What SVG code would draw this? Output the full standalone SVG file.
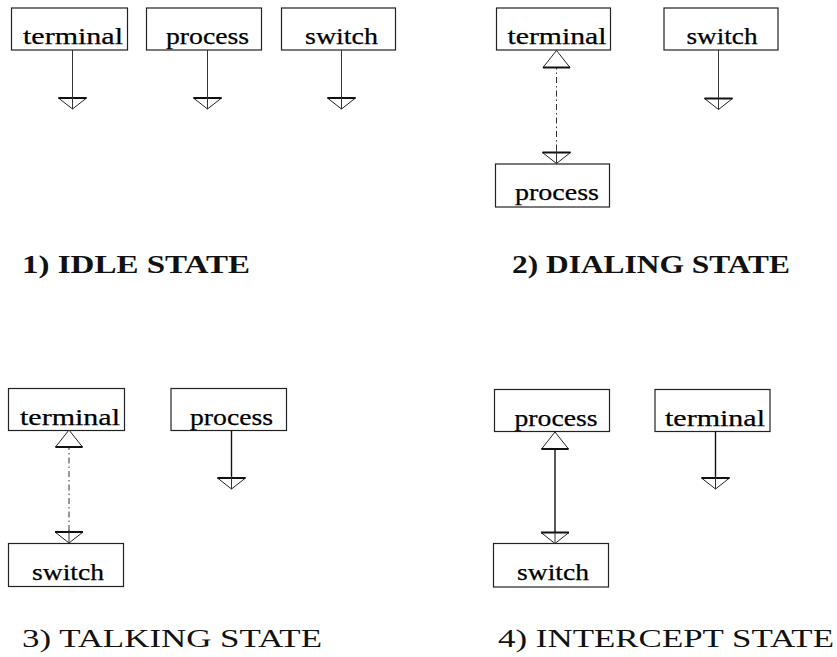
<svg xmlns="http://www.w3.org/2000/svg" width="837" height="657" viewBox="0 0 837 657">
<style>
.box{fill:#fff;stroke:#222;stroke-width:1.2}
.nt{font-family:"Liberation Serif","DejaVu Serif",serif;font-size:24px;fill:#000;stroke:#000;stroke-width:0.25;text-anchor:middle}
.ln{stroke:#333;stroke-width:1;fill:none}
.dd{stroke:#333;stroke-width:1;fill:none;stroke-dasharray:6 3 1.5 3}
.sl{stroke:#111;stroke-width:1.4;fill:none}
.tri{fill:#fff;stroke:#222;stroke-width:1}
.bar{stroke:#111;stroke-width:2;fill:none}
.lb{font-family:"Liberation Serif","DejaVu Serif",serif;font-size:26px;fill:#111}
.b{font-weight:bold}
</style>
<defs>
<g id="dn"><polygon class="tri" points="-14,0 14,0 0,11"/><line class="bar" x1="-14" y1="0" x2="14" y2="0"/><line class="ln" x1="0" y1="-2" x2="0" y2="11"/></g>
<g id="up"><polygon class="tri" points="-13.5,0 13.5,0 0,-17"/><line class="bar" x1="-13.5" y1="0" x2="13.5" y2="0"/></g>
</defs>

<!-- Panel 1 -->
<g id="p1-terminal"><rect class="box" x="11.5" y="8" width="116" height="42"/><text class="nt" x="73" y="44" textLength="100" lengthAdjust="spacingAndGlyphs">terminal</text></g>
<g id="p1-process"><rect class="box" x="146.5" y="8" width="115" height="42"/><text class="nt" x="207.5" y="44" textLength="83" lengthAdjust="spacingAndGlyphs">process</text></g>
<g id="p1-switch"><rect class="box" x="281.5" y="8" width="114" height="42"/><text class="nt" x="341.5" y="44" textLength="73" lengthAdjust="spacingAndGlyphs">switch</text></g>

<!-- Panel 2 -->
<g id="p2-terminal"><rect class="box" x="496.5" y="8" width="114" height="42"/><text class="nt" x="557" y="44" textLength="99" lengthAdjust="spacingAndGlyphs">terminal</text></g>
<g id="p2-switch"><rect class="box" x="664" y="8" width="114" height="42"/><text class="nt" x="722" y="44" textLength="71" lengthAdjust="spacingAndGlyphs">switch</text></g>
<g id="p2-process"><rect class="box" x="495.5" y="164" width="114" height="43"/><text class="nt" x="557" y="200" textLength="84" lengthAdjust="spacingAndGlyphs">process</text></g>

<!-- Panel 3 -->
<g id="p3-terminal"><rect class="box" x="8.5" y="388.5" width="116" height="42"/><text class="nt" x="70" y="424.5" textLength="100" lengthAdjust="spacingAndGlyphs">terminal</text></g>
<g id="p3-process"><rect class="box" x="171" y="388.5" width="115.5" height="42"/><text class="nt" x="231.5" y="424.5" textLength="83" lengthAdjust="spacingAndGlyphs">process</text></g>
<g id="p3-switch"><rect class="box" x="8.5" y="543.5" width="115" height="43"/><text class="nt" x="68" y="580" textLength="72" lengthAdjust="spacingAndGlyphs">switch</text></g>

<!-- Panel 4 -->
<g id="p4-process"><rect class="box" x="494.5" y="389.5" width="115" height="42"/><text class="nt" x="556" y="425.5" textLength="83" lengthAdjust="spacingAndGlyphs">process</text></g>
<g id="p4-terminal"><rect class="box" x="655" y="389.5" width="115" height="42"/><text class="nt" x="715" y="425.5" textLength="100" lengthAdjust="spacingAndGlyphs">terminal</text></g>
<g id="p4-switch"><rect class="box" x="493.5" y="543.5" width="115" height="43.5"/><text class="nt" x="553" y="580" textLength="72" lengthAdjust="spacingAndGlyphs">switch</text></g>

<g id="connectors">
  <!-- Panel 1 -->
  <line class="ln" x1="72.5" y1="50" x2="72.5" y2="98"/><use href="#dn" x="72.5" y="98"/>
  <line class="ln" x1="207.5" y1="50" x2="207.5" y2="98"/><use href="#dn" x="207.5" y="98"/>
  <line class="ln" x1="341.5" y1="50" x2="341.5" y2="98"/><use href="#dn" x="341.5" y="98"/>
  <!-- Panel 2 -->
  <line class="dd" x1="556.5" y1="50" x2="556.5" y2="152"/><use href="#up" x="556.5" y="67.5"/><use href="#dn" x="556.5" y="152.5"/>
  <line class="ln" x1="718.5" y1="50" x2="718.5" y2="98"/><use href="#dn" x="718.5" y="98.5"/>
  <!-- Panel 3 -->
  <line class="dd" x1="69" y1="430.5" x2="69" y2="532"/><use href="#up" x="69" y="447"/><use href="#dn" x="69" y="532"/>
  <line class="sl" x1="231.5" y1="430.5" x2="231.5" y2="478"/><use href="#dn" x="231.5" y="478"/>
  <!-- Panel 4 -->
  <line class="sl" x1="555" y1="431.5" x2="555" y2="532"/><use href="#up" x="555" y="449"/><use href="#dn" x="555" y="532.5"/>
  <line class="sl" x1="715.5" y1="431.5" x2="715.5" y2="478"/><use href="#dn" x="715.5" y="478"/>
</g>

<text class="lb b" x="22" y="273" textLength="228" lengthAdjust="spacingAndGlyphs">1) IDLE STATE</text>
<text class="lb b" x="512" y="273" textLength="278" lengthAdjust="spacingAndGlyphs">2) DIALING STATE</text>
<text class="lb" x="22" y="647" textLength="300" lengthAdjust="spacingAndGlyphs">3) TALKING STATE</text>
<text class="lb" x="498" y="647" textLength="336" lengthAdjust="spacingAndGlyphs">4) INTERCEPT STATE</text>
</svg>
